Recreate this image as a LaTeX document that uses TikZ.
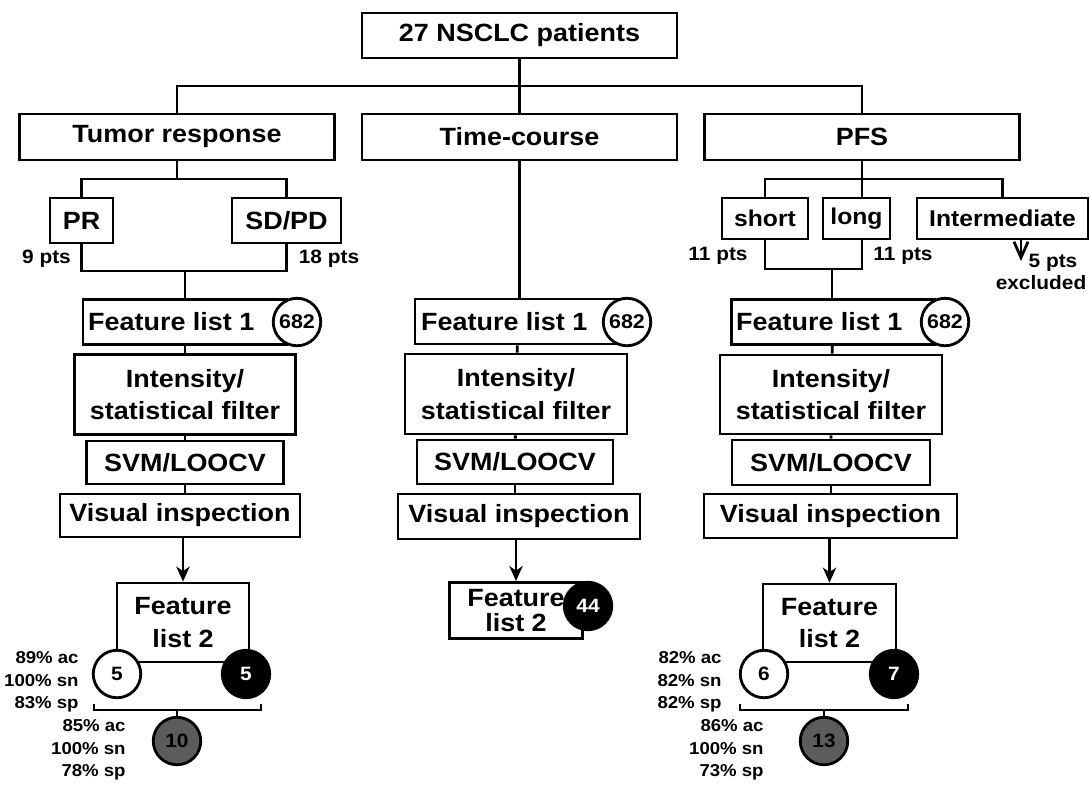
\documentclass[tikz,border=0pt]{standalone}
\usepackage{fontspec}
\newfontfamily\figfont{Liberation Sans}[FakeStretch=1.08]
\usepackage{tikz}
\usetikzlibrary{arrows.meta}
\usetikzlibrary{positioning}
\definecolor{circgray}{RGB}{92,92,92}

\begin{document}
\begin{tikzpicture}[x=0.02cm, y=-0.02cm, line width=1.6pt,
    box/.style={draw, fill=white, align=center, inner sep=0pt},
    bigtxt/.style={font=\figfont\bfseries\fontsize{14.2}{18.5}\selectfont},
    tighttxt/.style={font=\figfont\bfseries\fontsize{14.2}{14.5}\selectfont},
    midtxt/.style={font=\figfont\bfseries\fontsize{13}{15}\selectfont},
    smalltxt/.style={font=\figfont\bfseries\fontsize{11}{13}\selectfont, inner sep=0pt},
    stattxt/.style={font=\figfont\bfseries\fontsize{9.8}{12.8}\selectfont, align=right, anchor=east, inner sep=0pt},
    num/.style={circle, draw, fill=white, inner sep=0pt, minimum size=0.95cm, font=\figfont\bfseries\fontsize{11}{12}\selectfont},
    numbig/.style={num, font=\figfont\bfseries\fontsize{11.3}{12}\selectfont},
    numblack/.style={num, fill=black, text=white},
    numgray/.style={num, fill=circgray},
    arr/.style={-{Stealth[length=8.5pt, width=7.5pt, inset=2.5pt]}}]
  \useasboundingbox (0,0) rectangle (1091,785);

  \node[box, bigtxt, minimum width=6.3cm, minimum height=0.9cm] (top) at (519.5, 35.5) {27 NSCLC patients};

  \node[box, bigtxt, minimum width=6.3cm, minimum height=0.92cm] (tumor) at (177, 137) {Tumor response};
  \node[box, bigtxt, minimum width=6.3cm, minimum height=0.92cm] (time) at (519.5, 137) {Time-course};
  \node[box, bigtxt, minimum width=6.3cm, minimum height=0.92cm] (pfs) at (862, 137) {PFS};

  \coordinate (hub) at (519.5, 86);
  \draw (top) -- (hub);
  \draw (tumor.north) |- (hub) -| (pfs.north);
  \draw (hub) -- (time);

  \node[box, bigtxt, minimum width=1.26cm, minimum height=0.9cm] (pr) at (81.5, 220.5) {PR};
  \node[box, bigtxt, minimum width=2.18cm, minimum height=0.9cm] (sdpd) at (286.5, 220.5) {SD/PD};
  \node[smalltxt] (ptsPR) at (46.5, 259) {9 pts};
  \node[smalltxt] (ptsSD) at (329, 259) {18 pts};

  \coordinate (trsplit) at (177, 179);
  \coordinate (trjoin) at (185, 271);
  \draw (tumor) -- (trsplit);
  \draw (pr.north) |- (trsplit) -| (sdpd.north);
  \draw (pr.south) |- (trjoin) -| (sdpd.south);

  \node[box, midtxt, minimum width=1.72cm, minimum height=0.82cm] (short) at (765, 218.5) {short};
  \node[box, midtxt, minimum width=1.34cm, minimum height=0.82cm] (long) at (856.5, 218.5) {long};
  \node[box, midtxt, minimum width=3.42cm, minimum height=0.82cm] (interm) at (1002.5, 218.5) {Intermediate};
  \node[smalltxt] (ptsShort) at (718, 256) {11 pts};
  \node[smalltxt] (ptsLong) at (903, 256) {11 pts};
  \node[smalltxt] (ptsExcl) at (1053, 263) {5 pts};
  \node[smalltxt] (excl) at (1041, 283) {excluded};

  \coordinate (pfssplit) at (862, 179);
  \coordinate (pfsjoin) at (832, 269);
  \coordinate (exclTip) at (1021, 261);
  \draw (pfs) -- (pfssplit);
  \draw (short.north) |- (pfssplit) -| (interm.north);
  \draw (pfssplit) -- (pfssplit |- long.north);
  \draw (short.south) |- (pfsjoin) -| (pfssplit |- long.south);
  \draw[-{Straight Barb[length=9pt, width=8pt]}] (interm.south -| exclTip) -- (exclTip);

  \node[box, bigtxt, minimum width=4.08cm, minimum height=0.9cm] (fl1L) at (185, 322) {Feature list 1\hspace{1.1em}};
  \node[box, bigtxt, minimum width=4.42cm, minimum height=1.6cm] (intL) at (185, 394.5) {Intensity/\\statistical filter};
  \node[box, bigtxt, minimum width=3.94cm, minimum height=0.86cm] (svmL) at (185, 462.5) {SVM/LOOCV};
  \node[box, bigtxt, minimum width=4.8cm, minimum height=0.86cm] (visL) at (180, 515.5) {Visual inspection};
  \node[box, bigtxt, minimum width=2.64cm, minimum height=1.58cm] (fl2L) at (183, 622.5) {Feature\\list 2};
  \node[numbig] (cntL) at (297, 322) {682};

  \node[box, bigtxt, minimum width=4.12cm, minimum height=0.9cm] (fl1M) at (518, 321.5) {Feature list 1\hspace{1.1em}};
  \node[box, bigtxt, minimum width=4.44cm, minimum height=1.6cm] (intM) at (516, 394) {Intensity/\\statistical filter};
  \node[box, bigtxt, minimum width=3.92cm, minimum height=0.88cm] (svmM) at (515, 462) {SVM/LOOCV};
  \node[box, bigtxt, minimum width=4.84cm, minimum height=0.9cm] (visM) at (519, 516.5) {Visual inspection};
  \node[box, tighttxt, minimum width=2.66cm, minimum height=1.12cm] (fl2M) at (516, 610.5) {Feature\\list 2};
  \node[numbig] (cntM) at (627, 322) {682};
  \node[numblack] (newM) at (588, 606) {44};

  \node[box, bigtxt, minimum width=4.06cm, minimum height=0.9cm] (fl1R) at (833, 322) {Feature list 1\hspace{1.1em}};
  \node[box, bigtxt, minimum width=4.44cm, minimum height=1.58cm] (intR) at (831, 394.5) {Intensity/\\statistical filter};
  \node[box, bigtxt, minimum width=3.96cm, minimum height=0.9cm] (svmR) at (831, 462.5) {SVM/LOOCV};
  \node[box, bigtxt, minimum width=5.06cm, minimum height=0.88cm] (visR) at (830.5, 516) {Visual inspection};
  \node[box, bigtxt, minimum width=2.66cm, minimum height=1.56cm] (fl2R) at (829.5, 623) {Feature\\list 2};
  \node[numbig] (cntR) at (945, 322) {682};

  \draw (trjoin) -- (trjoin |- fl1L.north);
  \draw (time.south) -- (time.south |- fl1M.north);
  \draw (pfsjoin) -- (pfsjoin |- fl1R.north);

  \draw (fl1L) -- (intL) -- (svmL);
  \draw (svmL.south) -- (svmL.south |- visL.north);
  \draw (fl1M) -- (intM) -- (svmM);
  \draw (svmM.south) -- (svmM.south |- visM.north);
  \draw (fl1R) -- (intR) -- (svmR);
  \draw (svmR.south) -- (svmR.south |- visR.north);
  \draw[arr] (visL.south -| fl2L) -- (fl2L);
  \draw[arr] (visM.south -| fl2M) -- (fl2M);
  \draw[arr] (visR.south -| fl2R) -- (fl2R);

  \node[num] (upL) at (117, 674) {5};
  \node[numblack] (downL) at (246, 674) {5};
  \node[numgray] (bothL) at (177, 741) {10};
  \coordinate (brL) at (177, 710);
  \coordinate (brLl) at (94, 704);
  \coordinate (brLr) at (261, 704);
  \draw (brLl) |- (brL) -| (brLr);
  \draw (brL) -- (bothL);
  \node[stattxt] (statUpL) at (80, 682) {89\% ac\\100\% sn\\83\% sp};
  \node[stattxt] (statBothL) at (127, 750) {85\% ac\\100\% sn\\78\% sp};

  \node[num] (upR) at (764, 674) {6};
  \node[numblack] (downR) at (894, 674) {7};
  \node[numgray] (bothR) at (824, 741) {13};
  \coordinate (brR) at (824, 710);
  \coordinate (brRl) at (740, 704);
  \coordinate (brRr) at (908, 704);
  \draw (brRl) |- (brR) -| (brRr);
  \draw (brR) -- (bothR);
  \node[stattxt] (statUpR) at (723, 682) {82\% ac\\82\% sn\\82\% sp};
  \node[stattxt] (statBothR) at (765, 750) {86\% ac\\100\% sn\\73\% sp};
\end{tikzpicture}
\end{document}
